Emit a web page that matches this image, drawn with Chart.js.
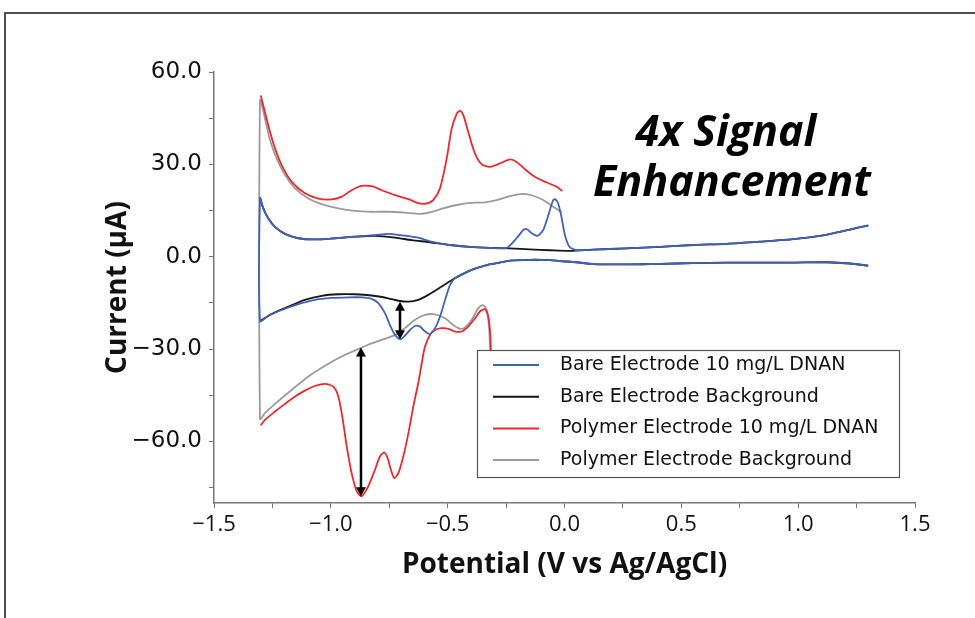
<!DOCTYPE html>
<html>
<head>
<meta charset="utf-8">
<script src="https://cdn.jsdelivr.net/npm/chart.js@4.4.1/dist/chart.umd.min.js"></script>
<style>
  html, body { margin: 0; padding: 0; background: #fff; overflow: hidden; }
  canvas { display: block; }
</style>
</head>
<body>
<canvas id="cvChart" width="975" height="618"></canvas>
<script>
// potential (V) / current (uA), each scan split in two branches
const bareDnanFwdV = [-1.303, -1.289, -1.268, -1.239, -1.196, -1.139, -1.068, -0.982, -0.897, -0.811, -0.754, -0.704, -0.654, -0.618, -0.576, -0.490, -0.404, -0.319, -0.247, -0.205, -0.176, -0.162, -0.140, -0.115, -0.091, -0.069, -0.050, -0.041, -0.027, -0.012, 0.002, 0.021, 0.045, 0.066, 0.123, 0.266, 0.409, 0.551, 0.694, 0.837, 0.979, 1.094, 1.193, 1.300];
const bareDnanFwdI = [19.1, 15.7, 12.5, 9.7, 7.4, 6.0, 5.6, 6.0, 6.5, 7.0, 7.4, 7.0, 6.5, 6.0, 5.0, 3.8, 3.2, 2.9, 2.9, 6.0, 8.7, 9.0, 7.6, 6.8, 8.7, 13.5, 18.1, 18.7, 17.3, 12.5, 7.0, 3.2, 2.2, 2.1, 2.3, 2.7, 3.2, 3.8, 4.2, 4.9, 5.7, 6.8, 8.3, 10.2];
const bareDnanRevV = [1.300, 1.222, 1.122, 0.979, 0.837, 0.694, 0.551, 0.409, 0.266, 0.123, 0.052, -0.019, -0.062, -0.148, -0.233, -0.283, -0.326, -0.397, -0.469, -0.490, -0.511, -0.533, -0.554, -0.576, -0.597, -0.618, -0.640, -0.661, -0.690, -0.704, -0.725, -0.747, -0.768, -0.797, -0.825, -0.868, -0.925, -0.996, -1.068, -1.139, -1.210, -1.268, -1.303];
const bareDnanRevI = [-2.9, -2.2, -1.8, -1.9, -1.9, -1.9, -2.1, -2.3, -2.5, -2.4, -1.8, -1.4, -1.1, -1.0, -1.3, -2.0, -2.6, -4.3, -7.0, -9.2, -14.0, -19.5, -23.2, -25.1, -24.3, -22.7, -22.5, -23.8, -26.2, -26.8, -25.4, -22.2, -18.4, -15.1, -13.7, -13.2, -13.2, -13.4, -14.0, -15.4, -17.3, -19.2, -20.9];

const bareBgFwdV = [-1.303, -1.289, -1.268, -1.239, -1.196, -1.139, -1.068, -0.982, -0.897, -0.811, -0.725, -0.654, -0.576, -0.490, -0.404, -0.319, -0.233, -0.148, -0.062, 0.024, 0.123, 0.266, 0.409, 0.551, 0.694, 0.837, 0.979, 1.094, 1.193, 1.300];
const bareBgFwdI = [19.1, 15.7, 12.5, 9.7, 7.4, 6.0, 5.6, 6.0, 6.5, 6.8, 6.2, 5.4, 4.7, 3.8, 3.2, 2.9, 2.7, 2.4, 2.1, 1.9, 2.3, 2.7, 3.2, 3.8, 4.2, 4.9, 5.7, 6.8, 8.3, 10.2];
const bareBgRevV = [1.300, 1.222, 1.122, 0.979, 0.837, 0.694, 0.551, 0.409, 0.266, 0.123, 0.052, -0.019, -0.062, -0.148, -0.233, -0.283, -0.326, -0.397, -0.469, -0.526, -0.583, -0.626, -0.668, -0.711, -0.754, -0.825, -0.897, -0.968, -1.039, -1.111, -1.182, -1.253, -1.303];
const bareBgRevI = [-2.9, -2.2, -1.8, -1.9, -1.9, -1.9, -2.1, -2.3, -2.5, -2.4, -1.8, -1.4, -1.1, -1.0, -1.3, -2.0, -2.6, -4.3, -7.0, -9.7, -12.4, -14.0, -14.6, -14.3, -13.5, -12.6, -12.2, -12.2, -12.7, -14.0, -16.2, -18.6, -20.9];

const polyDnanFwdV = [-1.300, -1.282, -1.260, -1.239, -1.210, -1.167, -1.111, -1.054, -0.996, -0.953, -0.911, -0.868, -0.825, -0.782, -0.725, -0.668, -0.633, -0.597, -0.562, -0.533, -0.504, -0.483, -0.461, -0.447, -0.433, -0.412, -0.383, -0.354, -0.319, -0.276, -0.233, -0.205, -0.169, -0.126, -0.076, -0.033, -0.009];
const polyDnanFwdI = [52.4, 47.0, 40.5, 35.2, 29.7, 24.3, 20.6, 18.9, 18.6, 19.5, 21.6, 23.0, 22.9, 21.6, 20.0, 18.7, 17.6, 17.2, 18.4, 22.2, 31.9, 41.6, 46.5, 47.4, 46.0, 40.5, 33.5, 30.0, 29.2, 30.3, 31.6, 30.8, 28.4, 25.9, 24.1, 22.7, 21.3];
const polyDnanRevV = [-0.305, -0.315, -0.318, -0.326, -0.340, -0.362, -0.383, -0.412, -0.440, -0.469, -0.497, -0.526, -0.554, -0.576, -0.597, -0.611, -0.626, -0.647, -0.668, -0.690, -0.711, -0.728, -0.743, -0.757, -0.771, -0.790, -0.811, -0.840, -0.868, -0.889, -0.911, -0.932, -0.951, -0.968, -0.989, -1.025, -1.068, -1.111, -1.153, -1.196, -1.239, -1.282, -1.300];
const polyDnanRevI = [-36.0, -30.3, -24.9, -19.5, -17.1, -17.8, -20.0, -22.7, -24.3, -24.3, -23.4, -23.2, -23.8, -25.4, -29.2, -34.6, -41.1, -48.6, -57.3, -64.9, -70.3, -71.9, -69.2, -65.4, -63.6, -64.9, -69.2, -74.6, -77.8, -76.2, -70.3, -61.6, -51.9, -45.4, -42.2, -41.3, -42.0, -43.5, -45.4, -47.8, -50.3, -53.0, -54.8];

const polyBgFwdV = [-1.303, -1.282, -1.260, -1.232, -1.196, -1.153, -1.096, -1.039, -0.968, -0.897, -0.825, -0.754, -0.683, -0.618, -0.576, -0.519, -0.461, -0.404, -0.348, -0.290, -0.233, -0.176, -0.134, -0.091, -0.048, -0.012];
const polyBgFwdI = [50.8, 44.9, 37.8, 31.9, 26.5, 22.2, 18.9, 17.1, 15.7, 14.9, 14.6, 14.6, 14.3, 13.9, 14.4, 15.7, 16.8, 17.5, 17.6, 18.4, 19.7, 20.4, 19.8, 18.4, 16.2, 14.4];
const polyBgRevV = [-0.318, -0.323, -0.333, -0.348, -0.369, -0.397, -0.426, -0.447, -0.476, -0.511, -0.554, -0.597, -0.640, -0.683, -0.725, -0.782, -0.840, -0.882, -0.954, -1.025, -1.096, -1.167, -1.239, -1.282, -1.303];
const polyBgRevI = [-30.3, -22.7, -17.3, -15.7, -16.7, -20.5, -23.0, -23.4, -22.2, -20.0, -18.7, -18.9, -20.5, -23.2, -25.4, -27.0, -28.6, -30.0, -32.4, -35.4, -38.9, -43.2, -47.8, -50.8, -52.7];

const seriesLabels = ["Bare Electrode 10 mg/L DNAN", "Bare Electrode Background", "Polymer Electrode 10 mg/L DNAN", "Polymer Electrode Background"];
const seriesColors = ["#3d62b8", "#161616", "#f0272b", "#9b9b9b"];

const xTickLabels = [-1.5, -1.0, -0.5, 0.0, 0.5, 1.0, 1.5];
const yTickLabels = [-60, -30, 0, 30, 60];

// double arrows marking the peak heights
const arrowV = [-0.704, -0.871];
const arrowFromI = [-14.6, -29.5];
const arrowToI = [-26.8, -77.8];

const noteLines = ["4x Signal", "Enhancement"];

function pts(v, i) {
  return v.map((x, k) => ({ x: x, y: i[k] }));
}
const gap = { x: null, y: null };

function fmt(v, digits) {
  return v.toFixed(digits).replace("-", "\u2212");
}
function isLabelled(list, v) {
  return list.some(t => Math.abs(t - v) < 1e-6);
}

const decor = {
  id: "decor",
  afterDatasetsDraw(chart) {
    const { ctx, scales: { x, y } } = chart;
    ctx.save();

    // arrows
    ctx.strokeStyle = "#000";
    ctx.fillStyle = "#000";
    ctx.lineWidth = 2.5;
    arrowV.forEach((v, k) => {
      const px = x.getPixelForValue(v);
      const y1 = y.getPixelForValue(arrowFromI[k]);
      const y2 = y.getPixelForValue(arrowToI[k]);
      const h = 9, w = 5;
      ctx.beginPath();
      ctx.moveTo(px, y1 + h - 1);
      ctx.lineTo(px, y2 - h + 1);
      ctx.stroke();
      ctx.beginPath();
      ctx.moveTo(px, y1); ctx.lineTo(px - w, y1 + h); ctx.lineTo(px + w, y1 + h);
      ctx.closePath(); ctx.fill();
      ctx.beginPath();
      ctx.moveTo(px, y2); ctx.lineTo(px - w, y2 - h); ctx.lineTo(px + w, y2 - h);
      ctx.closePath(); ctx.fill();
    });

    // legend box
    const lx = 477, ly = 350, lw = 422, lh = 127;
    ctx.fillStyle = "#fff";
    ctx.fillRect(lx, ly, lw, lh);
    ctx.strokeStyle = "#555";
    ctx.lineWidth = 1.2;
    ctx.strokeRect(lx + 0.5, ly + 0.5, lw, lh);
    ctx.font = '19px "DejaVu Sans"';
    ctx.textBaseline = "middle";
    ctx.textAlign = "left";
    chart.data.datasets.forEach((ds, k) => {
      const ry = ly + 15 + k * 31.7;
      ctx.strokeStyle = ds.borderColor;
      ctx.lineWidth = 2;
      ctx.beginPath();
      ctx.moveTo(lx + 16, ry);
      ctx.lineTo(lx + 62, ry);
      ctx.stroke();
      ctx.fillStyle = "#111";
      ctx.fillText(ds.label, lx + 83, ry);
    });
    ctx.restore();
  },
  afterDraw(chart) {
    const ctx = chart.ctx;
    ctx.save();
    // outer frame of the figure
    ctx.strokeStyle = "#505050";
    ctx.lineWidth = 2;
    ctx.beginPath();
    ctx.moveTo(5, 618);
    ctx.lineTo(5, 13);
    ctx.lineTo(975, 13);
    ctx.stroke();
    // clipped title fragment
    ctx.fillStyle = "#000";
    ctx.font = 'bold 24px "Open Sans"';
    ctx.textAlign = "left";
    ctx.textBaseline = "alphabetic";
    ctx.fillText("g", 227, -8);
    // annotation
    ctx.font = 'italic bold 43px "Open Sans"';
    ctx.textAlign = "center";
    ctx.fillText(noteLines[0], 726, 146);
    ctx.fillText(noteLines[1], 732, 196);
    ctx.restore();
  }
};

function makeSet(k, data) {
  return {
    label: seriesLabels[k],
    data: data,
    borderColor: seriesColors[k],
    backgroundColor: seriesColors[k],
    borderWidth: 1.8,
    pointRadius: 0,
    showLine: true,
    tension: 0.25,
    spanGaps: false,
  };
}

const ctx = document.getElementById("cvChart").getContext("2d");
new Chart(ctx, {
  type: "scatter",
  data: {
    datasets: [
      makeSet(0, [...pts(bareDnanRevV, bareDnanRevI), ...pts(bareDnanFwdV, bareDnanFwdI)]),
      makeSet(1, [...pts(bareBgFwdV, bareBgFwdI), gap, ...pts(bareBgRevV, bareBgRevI)]),
      makeSet(2, [...pts(polyDnanFwdV, polyDnanFwdI), gap, ...pts(polyDnanRevV, polyDnanRevI)]),
      makeSet(3, [...pts(polyBgRevV, polyBgRevI), ...pts(polyBgFwdV, polyBgFwdI)]),
    ],
  },
  options: {
    responsive: false,
    animation: false,
    devicePixelRatio: 1,
    layout: { padding: { left: 0, right: 60, top: 72, bottom: 0 } },
    plugins: {
      legend: { display: false },
      tooltip: { enabled: false },
    },
    scales: {
      x: {
        type: "linear",
        min: -1.5,
        max: 1.5,
        afterFit: s => { s.height = 115; },
        border: { display: true, color: "#777", width: 1.5 },
        grid: { drawOnChartArea: false, drawTicks: true, tickLength: 5, tickColor: "#777" },
        ticks: {
          stepSize: 0.25,
          autoSkip: false,
          maxRotation: 0,
          padding: 4,
          color: "#111",
          font: { size: 22, family: "'Liberation Sans Narrow', 'Open Sans'" },
          callback: v => isLabelled(xTickLabels, v) ? fmt(v, 1) : "",
        },
        title: {
          display: true,
          text: "Potential (V vs Ag/AgCl)",
          color: "#111",
          font: { size: 28, weight: "bold", family: "'Open Sans'" },
          padding: { top: 0, bottom: 36 },
        },
      },
      y: {
        type: "linear",
        min: -80,
        max: 60,
        afterFit: s => { s.width = 214; },
        border: { display: true, color: "#777", width: 1.5 },
        grid: { drawOnChartArea: false, drawTicks: true, tickLength: 5, tickColor: "#777" },
        ticks: {
          stepSize: 15,
          includeBounds: false,
          autoSkip: false,
          padding: 7,
          color: "#111",
          font: { size: 23, family: "'DejaVu Sans'" },
          callback: v => isLabelled(yTickLabels, v) ? fmt(v, 1) : "",
        },
        title: {
          display: true,
          text: "Current (\u00b5A)",
          color: "#111",
          font: { size: 28, weight: "bold", family: "'Open Sans'" },
          padding: { top: 101, bottom: 0 },
        },
      },
    },
  },
  plugins: [decor],
});
</script>
</body>
</html>
